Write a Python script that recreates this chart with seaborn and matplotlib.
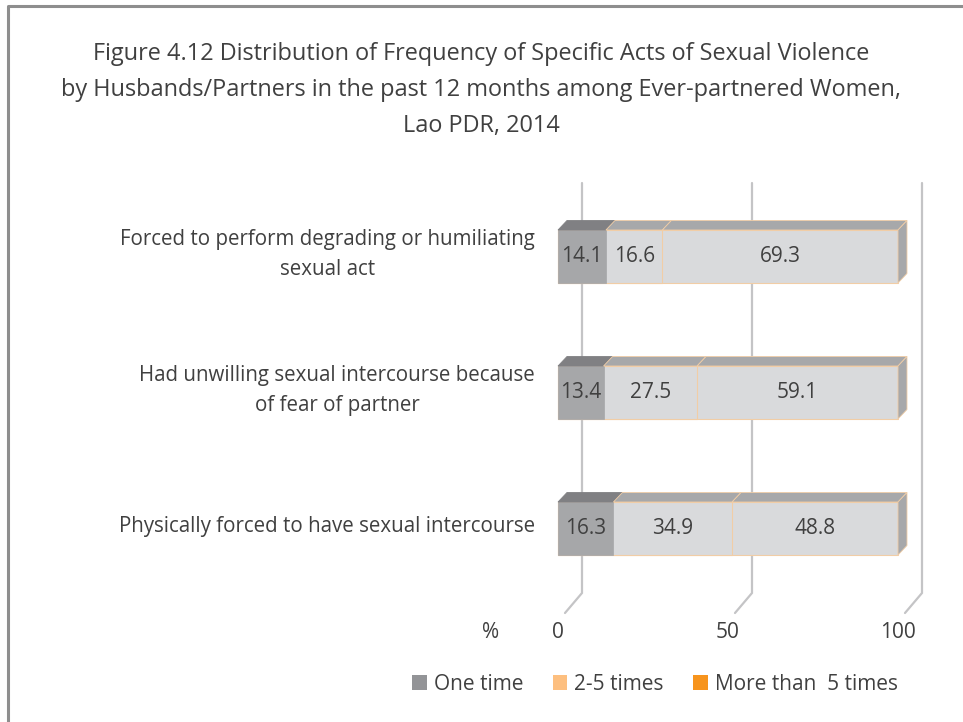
import numpy as np
import pandas as pd
import matplotlib.pyplot as plt
from matplotlib.patches import Polygon, Patch
from matplotlib.lines import Line2D
import seaborn as sns

sns.set_style("white")
plt.rcParams['font.family'] = ['Open Sans', 'DejaVu Sans']

categories = ["Forced to perform degrading or humiliating\nsexual act",
              "Had unwilling sexual intercourse because\nof fear of partner",
              "Physically forced to have sexual intercourse"]
one_time = [14.1, 13.4, 16.3]
two_five = [16.6, 27.5, 34.9]
more_five = [69.3, 59.1, 48.8]
series_names = ["One time", "2-5 times", "More than  5 times"]
ticks = [0, 50, 100]

df = pd.DataFrame({"cat": categories, "one": one_time, "two": two_five, "more": more_five})
df["c1"] = df["one"]
df["c2"] = df["one"] + df["two"]
df["c3"] = df["c2"] + df["more"]

W, H = 963, 722
fig = plt.figure(figsize=(W / 100, H / 100), dpi=100)

# axes placed in pixels: x 540..940, y 180..620
px_l, px_r, px_t, px_b = 540, 940, 180, 620
ax = fig.add_axes([px_l / W, 1 - px_b / H, (px_r - px_l) / W, (px_b - px_t) / H])
sx = 3.4      # px per percent
x0px = 558    # px of value 0 on bar front
sy = 136      # px per category step
y0px = 256.5  # px of first bar centre

bar_h = 53 / sy
dx = 9 / sx
dy = -9.5 / sy
txt = "#404040"
fs = 15

# back wall gridlines with floor diagonals
grid_col = "#C4C4C6"
for t in ticks:
    xb = t + 24 / sx
    xf = t + 7 / sx
    yt = (183 - y0px) / sy
    yb = 2 + (593 - 528.5) / sy
    yf = 2 + (613 - 528.5) / sy
    ax.plot([xb, xb, xf], [yt, yb, yf], color=grid_col, lw=1.6, zorder=0,
            solid_joinstyle="miter", clip_on=False)
    ax.text(t, 2 + (633 - 528.5) / sy, str(t), ha="center", va="center",
            fontsize=fs, color=txt)
ax.text((491 - x0px) / sx, 2 + (633 - 528.5) / sy, "%", ha="center", va="center",
        fontsize=fs, color=txt)

# front faces, stacked by overlaying cumulative sums
light = "#D9DADC"
dark = "#A6A7A9"
edge = "#F1CDA6"
sns.barplot(data=df, x="c3", y="cat", orient="h", color=light, width=bar_h,
            edgecolor=edge, linewidth=0.8, saturation=1, ax=ax, zorder=3)
sns.barplot(data=df, x="c2", y="cat", orient="h", color=light, width=bar_h,
            edgecolor=edge, linewidth=0.8, saturation=1, ax=ax, zorder=3)
sns.barplot(data=df, x="c1", y="cat", orient="h", color=dark, width=bar_h,
            edgecolor=dark, linewidth=0.5, saturation=1, ax=ax, zorder=3)
ax.set_xlim((px_l - x0px) / sx, (px_r - x0px) / sx)
ax.set_ylim(2 + (px_b - 528.5) / sy, (px_t - y0px) / sy)
ax.axis("off")

# top and side faces
for i, row in df.iterrows():
    yt = i - bar_h / 2
    yb = i + bar_h / 2
    segs = [(0, row["c1"], "#808083"), (row["c1"], row["c2"], "#A7A8AA"),
            (row["c2"], row["c3"], "#A7A8AA")]
    for a, b, c in segs:
        ax.add_patch(Polygon([(a, yt), (b, yt), (b + dx, yt + dy), (a + dx, yt + dy)],
                             closed=True, facecolor=c, edgecolor=c if c == "#808083" else edge,
                             lw=0.6, zorder=4))
    e = row["c3"]
    ax.add_patch(Polygon([(e, yt), (e + dx, yt + dy), (e + dx, yb + dy), (e, yb)],
                         closed=True, facecolor="#A7A8AA", edgecolor=edge, lw=0.6, zorder=4))
    # value labels
    for a, b, v in [(0, row["c1"], row["one"]), (row["c1"], row["c2"], row["two"]),
                    (row["c2"], row["c3"], row["more"])]:
        ax.text((a + b) / 2, i, f"{v:.1f}", ha="center", va="center",
                fontsize=fs, color=txt, zorder=5)
    # category labels
    ax.text((535 - x0px) / sx, i - 2 / sy, row["cat"], ha="right", va="center",
            multialignment="center", fontsize=14.8, color=txt,
            linespacing=1.52, clip_on=False)

# title
fig.text(481 / W, 1 - 90 / H,
         "Figure 4.12 Distribution of Frequency of Specific Acts of Sexual Violence\n"
         "by Husbands/Partners in the past 12 months among Ever-partnered Women,\n"
         "Lao PDR, 2014", ha="center", va="center", fontsize=16.9, color=txt,
         linespacing=1.66)

# legend
handles = [Patch(facecolor="#939497", edgecolor="none"),
           Patch(facecolor="#FDBF7F", edgecolor="none"),
           Patch(facecolor="#F7941D", edgecolor="none")]
fig.legend(handles, series_names, loc="center", bbox_to_anchor=(655 / W, 1 - 684 / H),
           ncol=3, frameon=False, fontsize=fs, handlelength=0.7, handleheight=0.7,
           handletextpad=0.35, columnspacing=1.4, labelcolor=txt)

# figure border (left and top)
fig.add_artist(Line2D([8 / W, 8 / W, 1], [0, 1 - 6 / H, 1 - 6 / H], color="#8E8E8E",
                      lw=2.2, transform=fig.transFigure))

fig.savefig("out.png", dpi=100)
